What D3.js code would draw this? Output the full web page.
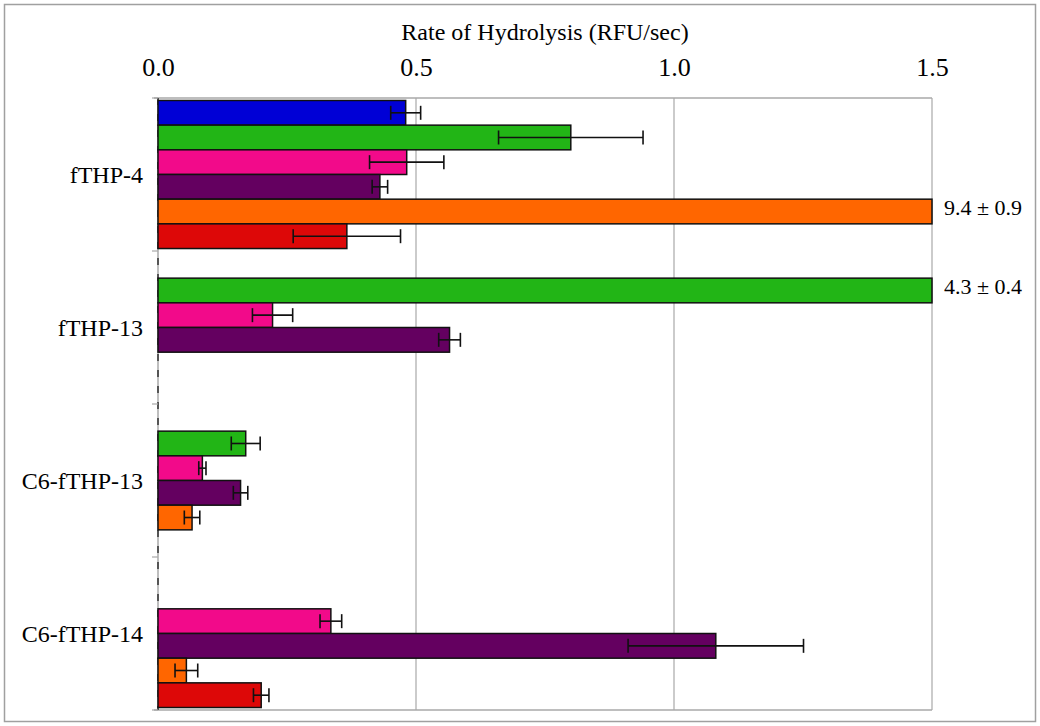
<!DOCTYPE html>
<html>
<head>
<meta charset="utf-8">
<script src="https://cdn.jsdelivr.net/npm/d3@7"></script>
<style>
  body { margin: 0; background: #fff; }
  text { font-family: "Liberation Serif", "Times New Roman", serif; fill: #000; }
</style>
</head>
<body>
<svg id="chart"></svg>
<script>
// categories and series
const categories = ["fTHP-4", "fTHP-13", "C6-fTHP-13", "C6-fTHP-14"];
const seriesNames = ["s1", "s2", "s3", "s4", "s5", "s6"];
const seriesColors = ["#0000d6", "#22b516", "#f20a8a", "#640060", "#ff6600", "#dd0808"];

// values per series (null = no bar), in the order of categories
const s1Values = [0.48, null, null, null];
const s2Values = [0.80, 4.3, 0.170, null];
const s3Values = [0.482, 0.222, 0.086, 0.335];
const s4Values = [0.43, 0.565, 0.160, 1.081];
const s5Values = [9.4, null, 0.066, 0.055];
const s6Values = [0.366, null, null, 0.200];

// error (±) per series
const s1Errors = [0.029, null, null, null];
const s2Errors = [0.14, 0.4, 0.028, null];
const s3Errors = [0.072, 0.039, 0.007, 0.021];
const s4Errors = [0.015, 0.021, 0.014, 0.17];
const s5Errors = [0.9, null, 0.015, 0.022];
const s6Errors = [0.104, null, null, 0.015];

const xTicks = [0, 0.5, 1.0, 1.5];

const allValues = [s1Values, s2Values, s3Values, s4Values, s5Values, s6Values];
const allErrors = [s1Errors, s2Errors, s3Errors, s4Errors, s5Errors, s6Errors];

const width = 1040, height = 726;
const margin = {top: 98, right: 108, bottom: 16, left: 158};

const svg = d3.select("#chart").attr("width", width).attr("height", height);

// outer frame
svg.append("rect")
    .attr("x", 4.5).attr("y", 4.5)
    .attr("width", 1031).attr("height", 717)
    .attr("fill", "#fff").attr("stroke", "#a0a0a0").attr("stroke-width", 1.5);

const x = d3.scaleLinear().domain([0, 1.5]).range([margin.left, width - margin.right]);
const y = d3.scaleBand().domain(categories).range([margin.top, height - margin.bottom]);
const ySub = d3.scaleBand().domain(seriesNames).range([0, y.bandwidth()]).paddingOuter(0.1);

// grid lines
svg.append("g").selectAll("line")
    .data(xTicks.filter(d => d > 0))
    .join("line")
    .attr("x1", d => x(d)).attr("x2", d => x(d))
    .attr("y1", margin.top).attr("y2", height - margin.bottom)
    .attr("stroke", "#a8a8a8").attr("stroke-width", 1.2);

// bottom border of the plot
svg.append("line")
    .attr("x1", margin.left - 4).attr("x2", x(1.5))
    .attr("y1", height - margin.bottom).attr("y2", height - margin.bottom)
    .attr("stroke", "#a8a8a8").attr("stroke-width", 1.5);

// top axis
const xAxis = svg.append("g")
    .attr("transform", `translate(0,${margin.top})`)
    .call(d3.axisTop(x).tickValues(xTicks).tickFormat(d3.format(".1f")).tickSize(0).tickPadding(22));
xAxis.select(".domain").attr("stroke", "#a8a8a8").attr("stroke-width", 1.5)
    .attr("d", `M${margin.left - 4},0H${x(1.5)}`);
xAxis.selectAll("text").style("font-size", "26px").style("font-family", "Liberation Serif");

svg.append("text")
    .attr("x", (x(0) + x(1.5)) / 2).attr("y", 40)
    .attr("text-anchor", "middle")
    .style("font-size", "24px")
    .text("Rate of Hydrolysis (RFU/sec)");

// left axis line + ticks at category edges
svg.append("line")
    .attr("x1", margin.left).attr("x2", margin.left)
    .attr("y1", margin.top).attr("y2", height - margin.bottom)
    .attr("stroke", "#a8a8a8").attr("stroke-width", 1.5);
svg.append("line")
    .attr("x1", margin.left).attr("x2", margin.left)
    .attr("y1", margin.top).attr("y2", height - margin.bottom)
    .attr("stroke", "#333").attr("stroke-width", 1.5)
    .attr("stroke-dasharray", "7,9");
const edges = categories.map(c => y(c)).concat([height - margin.bottom]);
svg.append("g").selectAll("line")
    .data(edges)
    .join("line")
    .attr("x1", margin.left - 6).attr("x2", margin.left)
    .attr("y1", d => d).attr("y2", d => d)
    .attr("stroke", "#a8a8a8").attr("stroke-width", 1.2);

svg.append("g").selectAll("text")
    .data(categories)
    .join("text")
    .attr("x", margin.left - 15)
    .attr("y", d => y(d) + y.bandwidth() / 2)
    .attr("dy", "0.35em")
    .attr("text-anchor", "end")
    .style("font-size", "24px")
    .text(d => d);

// bars
const barData = [];
seriesNames.forEach((s, i) => {
    categories.forEach((c, j) => {
        const v = allValues[i][j];
        if (v !== null) barData.push({cat: c, series: s, color: seriesColors[i], value: v, err: allErrors[i][j]});
    });
});

const barG = svg.append("g");
barG.selectAll("rect")
    .data(barData)
    .join("rect")
    .attr("x", x(0))
    .attr("y", d => y(d.cat) + ySub(d.series))
    .attr("width", d => x(Math.min(d.value, 1.5)) - x(0))
    .attr("height", ySub.bandwidth())
    .attr("fill", d => d.color)
    .attr("stroke", "#111").attr("stroke-width", 1.5);

// error bars (only for bars that fit the axis)
const errData = barData.filter(d => d.value <= 1.5);
const errG = svg.append("g").attr("stroke", "#111").attr("stroke-width", 1.6);
errData.forEach(d => {
    const cy = y(d.cat) + ySub(d.series) + ySub.bandwidth() / 2;
    const x1 = x(d.value - d.err), x2 = x(d.value + d.err);
    errG.append("line").attr("x1", x1).attr("x2", x2).attr("y1", cy).attr("y2", cy);
    errG.append("line").attr("x1", x1).attr("x2", x1).attr("y1", cy - 7).attr("y2", cy + 7);
    errG.append("line").attr("x1", x2).attr("x2", x2).attr("y1", cy - 7).attr("y2", cy + 7);
});

// labels for clipped bars
svg.append("g").selectAll("text")
    .data(barData.filter(d => d.value > 1.5))
    .join("text")
    .attr("x", x(1.5) + 12)
    .attr("y", d => y(d.cat) + ySub(d.series) + ySub.bandwidth() / 2 - 4)
    .attr("dy", "0.35em")
    .style("font-size", "22px")
    .text(d => `${d.value.toFixed(1)} ± ${d.err.toFixed(1)}`);
</script>
</body>
</html>
